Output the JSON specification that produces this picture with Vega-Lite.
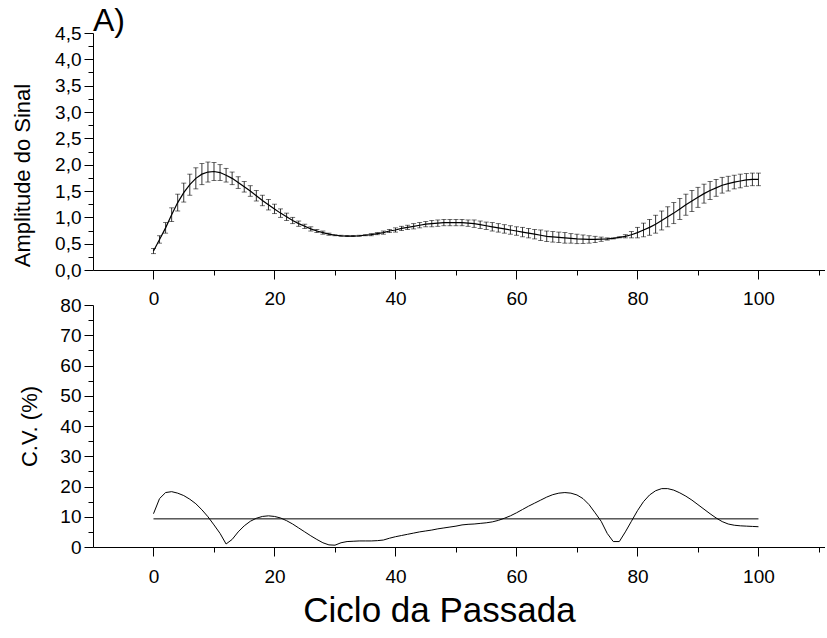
{
  "$schema": "https://vega.github.io/schema/vega-lite/v6.json",
  "padding": {"left": 11, "top": 5, "right": 0, "bottom": 0},
  "background": "white",
  "config": {
    "view": {"stroke": null},
    "font": "Liberation Sans",
    "axis": {
      "grid": false, "domainColor": "black", "tickColor": "black", "labelColor": "black", "titleColor": "black",
      "labelFont": "Liberation Sans", "titleFont": "Liberation Sans", "labelFontSize": 19, "titleFontSize": 22,
      "titleFontWeight": "normal", "domainWidth": 1, "tickWidth": 1, "labelOverlap": false, "labelFlush": false
    }
  },
  "datasets": {
    "amp": [
      {"x":0,"m":0.36,"sd":0.05},{"x":1,"m":0.58,"sd":0.07},{"x":2,"m":0.80,"sd":0.10},{"x":3,"m":1.05,"sd":0.13},{"x":4,"m":1.28,"sd":0.16},
      {"x":5,"m":1.47,"sd":0.18},{"x":6,"m":1.62,"sd":0.20},{"x":7,"m":1.74,"sd":0.20},{"x":8,"m":1.82,"sd":0.20},{"x":9,"m":1.86,"sd":0.19},
      {"x":10,"m":1.87,"sd":0.17},{"x":11,"m":1.85,"sd":0.15},{"x":12,"m":1.80,"sd":0.13},{"x":13,"m":1.74,"sd":0.12},{"x":14,"m":1.66,"sd":0.11},
      {"x":15,"m":1.58,"sd":0.10},{"x":16,"m":1.50,"sd":0.10},{"x":17,"m":1.41,"sd":0.10},{"x":18,"m":1.32,"sd":0.10},{"x":19,"m":1.24,"sd":0.10},
      {"x":20,"m":1.16,"sd":0.09},{"x":21,"m":1.08,"sd":0.08},{"x":22,"m":1.01,"sd":0.07},{"x":23,"m":0.94,"sd":0.06},{"x":24,"m":0.88,"sd":0.05},
      {"x":25,"m":0.83,"sd":0.04},{"x":26,"m":0.78,"sd":0.04},{"x":27,"m":0.74,"sd":0.03},{"x":28,"m":0.71,"sd":0.03},{"x":29,"m":0.68,"sd":0.02},
      {"x":30,"m":0.66,"sd":0.01},{"x":31,"m":0.65,"sd":0.01},{"x":32,"m":0.645,"sd":0.01},{"x":33,"m":0.645,"sd":0.01},{"x":34,"m":0.65,"sd":0.01},
      {"x":35,"m":0.66,"sd":0.01},{"x":36,"m":0.67,"sd":0.02},{"x":37,"m":0.69,"sd":0.02},{"x":38,"m":0.71,"sd":0.03},{"x":39,"m":0.74,"sd":0.03},
      {"x":40,"m":0.76,"sd":0.04},{"x":41,"m":0.79,"sd":0.04},{"x":42,"m":0.81,"sd":0.04},{"x":43,"m":0.83,"sd":0.05},{"x":44,"m":0.85,"sd":0.05},
      {"x":45,"m":0.87,"sd":0.05},{"x":46,"m":0.88,"sd":0.06},{"x":47,"m":0.89,"sd":0.06},{"x":48,"m":0.90,"sd":0.06},{"x":49,"m":0.90,"sd":0.06},
      {"x":50,"m":0.90,"sd":0.06},{"x":51,"m":0.90,"sd":0.06},{"x":52,"m":0.89,"sd":0.06},{"x":53,"m":0.88,"sd":0.07},{"x":54,"m":0.86,"sd":0.07},
      {"x":55,"m":0.84,"sd":0.07},{"x":56,"m":0.82,"sd":0.08},{"x":57,"m":0.80,"sd":0.08},{"x":58,"m":0.78,"sd":0.08},{"x":59,"m":0.76,"sd":0.08},
      {"x":60,"m":0.74,"sd":0.08},{"x":61,"m":0.72,"sd":0.09},{"x":62,"m":0.70,"sd":0.09},{"x":63,"m":0.68,"sd":0.09},{"x":64,"m":0.66,"sd":0.10},
      {"x":65,"m":0.64,"sd":0.10},{"x":66,"m":0.63,"sd":0.10},{"x":67,"m":0.62,"sd":0.10},{"x":68,"m":0.61,"sd":0.10},{"x":69,"m":0.60,"sd":0.09},
      {"x":70,"m":0.59,"sd":0.09},{"x":71,"m":0.585,"sd":0.08},{"x":72,"m":0.58,"sd":0.07},{"x":73,"m":0.58,"sd":0.06},{"x":74,"m":0.585,"sd":0.04},
      {"x":75,"m":0.59,"sd":0.02},{"x":76,"m":0.60,"sd":0.01},{"x":77,"m":0.62,"sd":0.01},{"x":78,"m":0.64,"sd":0.03},{"x":79,"m":0.67,"sd":0.06},
      {"x":80,"m":0.71,"sd":0.10},{"x":81,"m":0.76,"sd":0.13},{"x":82,"m":0.81,"sd":0.15},{"x":83,"m":0.87,"sd":0.17},{"x":84,"m":0.94,"sd":0.18},
      {"x":85,"m":1.01,"sd":0.19},{"x":86,"m":1.08,"sd":0.20},{"x":87,"m":1.16,"sd":0.20},{"x":88,"m":1.24,"sd":0.20},{"x":89,"m":1.31,"sd":0.20},
      {"x":90,"m":1.38,"sd":0.19},{"x":91,"m":1.45,"sd":0.18},{"x":92,"m":1.51,"sd":0.17},{"x":93,"m":1.56,"sd":0.16},{"x":94,"m":1.61,"sd":0.15},
      {"x":95,"m":1.64,"sd":0.14},{"x":96,"m":1.67,"sd":0.13},{"x":97,"m":1.69,"sd":0.13},{"x":98,"m":1.71,"sd":0.12},{"x":99,"m":1.72,"sd":0.12},
      {"x":100,"m":1.72,"sd":0.12}
    ],
    "cv": [
      {"x":0,"cv":11},{"x":1,"cv":16},{"x":2,"cv":18},{"x":3,"cv":18.3},{"x":4,"cv":17.8},{"x":5,"cv":17},{"x":6,"cv":15.8},{"x":7,"cv":14.3},
      {"x":8,"cv":12.3},{"x":9,"cv":10},{"x":10,"cv":7.3},{"x":11,"cv":4.5},{"x":12,"cv":1.0},{"x":13,"cv":2.5},{"x":14,"cv":5.0},{"x":15,"cv":7.0},
      {"x":16,"cv":8.5},{"x":17,"cv":9.5},{"x":18,"cv":10.1},{"x":19,"cv":10.3},{"x":20,"cv":10.1},{"x":21,"cv":9.6},{"x":22,"cv":8.7},{"x":23,"cv":7.6},
      {"x":24,"cv":6.3},{"x":25,"cv":5.0},{"x":26,"cv":3.7},{"x":27,"cv":2.5},{"x":28,"cv":1.4},{"x":29,"cv":0.7},{"x":30,"cv":0.6},{"x":31,"cv":1.4},
      {"x":32,"cv":1.8},{"x":33,"cv":1.9},{"x":34,"cv":2.0},{"x":35,"cv":2.0},{"x":36,"cv":2.0},{"x":37,"cv":2.1},{"x":38,"cv":2.3},{"x":39,"cv":2.9},
      {"x":40,"cv":3.4},{"x":41,"cv":3.8},{"x":42,"cv":4.2},{"x":43,"cv":4.6},{"x":44,"cv":5.0},{"x":45,"cv":5.3},{"x":46,"cv":5.6},{"x":47,"cv":6.0},
      {"x":48,"cv":6.3},{"x":49,"cv":6.6},{"x":50,"cv":6.9},{"x":51,"cv":7.3},{"x":52,"cv":7.5},{"x":53,"cv":7.6},{"x":54,"cv":7.8},{"x":55,"cv":8.0},
      {"x":56,"cv":8.3},{"x":57,"cv":8.8},{"x":58,"cv":9.5},{"x":59,"cv":10.3},{"x":60,"cv":11.3},{"x":61,"cv":12.4},{"x":62,"cv":13.5},{"x":63,"cv":14.5},
      {"x":64,"cv":15.5},{"x":65,"cv":16.5},{"x":66,"cv":17.3},{"x":67,"cv":17.8},{"x":68,"cv":18.0},{"x":69,"cv":17.8},{"x":70,"cv":17.2},{"x":71,"cv":16.0},
      {"x":72,"cv":14.0},{"x":73,"cv":11.3},{"x":74,"cv":8.5},{"x":75,"cv":4.5},{"x":76,"cv":1.8},{"x":77,"cv":1.8},{"x":78,"cv":5.0},{"x":79,"cv":8.5},
      {"x":80,"cv":12.0},{"x":81,"cv":15.0},{"x":82,"cv":17.2},{"x":83,"cv":18.6},{"x":84,"cv":19.3},{"x":85,"cv":19.3},{"x":86,"cv":18.8},{"x":87,"cv":17.9},
      {"x":88,"cv":16.8},{"x":89,"cv":15.5},{"x":90,"cv":14.0},{"x":91,"cv":12.5},{"x":92,"cv":11.0},{"x":93,"cv":9.6},{"x":94,"cv":8.4},{"x":95,"cv":7.6},
      {"x":96,"cv":7.2},{"x":97,"cv":7.0},{"x":98,"cv":6.9},{"x":99,"cv":6.8},{"x":100,"cv":6.7}
    ],
    "ref": [{"x":0,"x2":100,"cv":9.3}]
  },
  "bounds": "flush",
  "spacing": 35,
  "vconcat": [
    {
      "width": 732,
      "height": 237,
      "title": {"text": "A)", "anchor": "start", "frame": "group", "fontSize": 32, "fontWeight": "normal", "font": "Liberation Sans", "color": "black", "offset": 1, "dy": 15},
      "data": {"name": "amp"},
      "resolve": {"axis": {"x": "independent", "y": "independent"}},
      "layer": [
        {"mark": {"type": "errorbar", "color": "black", "thickness": 0.8, "ticks": {"size": 5, "color": "black"}},
         "encoding": {
           "x": {"field": "x", "type": "quantitative", "scale": {"domain": [-10, 111], "nice": false, "zero": false},
             "axis": {"orient": "bottom", "title": null, "values": [0,20,40,60,80,100], "tickSize": 9, "labelPadding": 10}},
           "y": {"field": "m", "type": "quantitative", "scale": {"domain": [0, 4.5], "nice": false},
             "axis": {"orient": "left", "title": "Amplitude do Sinal", "titlePadding": 20, "titleY": 142,
               "values": [0,0.5,1,1.5,2,2.5,3,3.5,4,4.5], "tickSize": 9, "labelPadding": 3,
               "labelExpr": "replace(format(datum.value, '.1f'), '.', ',')"}},
           "yError": {"field": "sd"}
         }},
        {"mark": {"type": "line", "color": "black", "strokeWidth": 1.2},
         "encoding": {
           "x": {"field": "x", "type": "quantitative",
             "axis": {"orient": "bottom", "title": null, "values": [10,30,50,70,90,110], "tickSize": 5, "labels": false, "domain": false}},
           "y": {"field": "m", "type": "quantitative",
             "axis": {"orient": "left", "title": null, "values": [0.25,0.75,1.25,1.75,2.25,2.75,3.25,3.75,4.25], "tickSize": 5, "labels": false, "domain": false}}
         }}
      ]
    },
    {
      "width": 732,
      "height": 242,
      "resolve": {"axis": {"x": "independent", "y": "independent"}},
      "layer": [
        {"data": {"name": "cv"},
         "mark": {"type": "line", "color": "black", "strokeWidth": 1},
         "encoding": {
           "x": {"field": "x", "type": "quantitative", "scale": {"domain": [-10, 111], "nice": false, "zero": false},
             "axis": {"orient": "bottom", "title": "Ciclo da Passada", "titleFontSize": 35, "titlePadding": 7, "titleX": 346,
               "values": [0,20,40,60,80,100], "tickSize": 9, "labelPadding": 11}},
           "y": {"field": "cv", "type": "quantitative", "scale": {"domain": [0, 80], "nice": false},
             "axis": {"orient": "left", "title": "C.V. (%)", "titlePadding": 18,
               "values": [0,10,20,30,40,50,60,70,80], "tickSize": 9, "labelPadding": 3}}
         }},
        {"data": {"name": "ref"},
         "mark": {"type": "rule", "color": "black", "strokeWidth": 1},
         "encoding": {
           "x": {"field": "x", "type": "quantitative",
             "axis": {"orient": "bottom", "title": null, "values": [10,30,50,70,90,110], "tickSize": 5, "labels": false, "domain": false}},
           "x2": {"field": "x2"},
           "y": {"field": "cv", "type": "quantitative",
             "axis": {"orient": "left", "title": null, "values": [5,15,25,35,45,55,65,75], "tickSize": 5, "labels": false, "domain": false}}
         }}
      ]
    }
  ]
}
